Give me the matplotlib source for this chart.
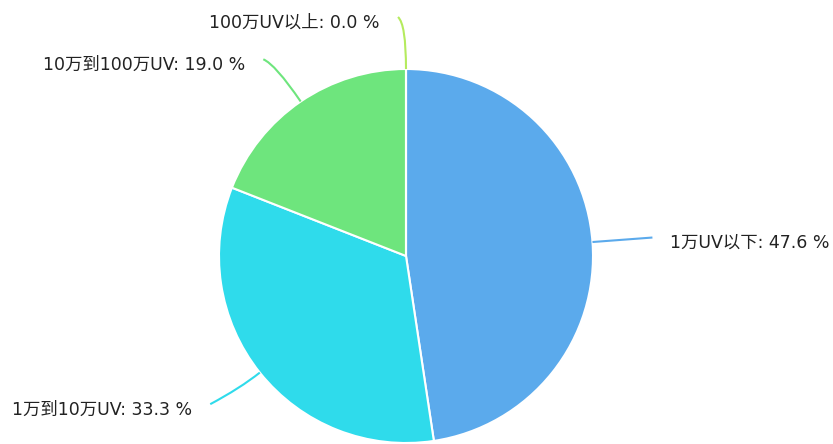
import numpy as np
import matplotlib
matplotlib.use("Agg")
import matplotlib.pyplot as plt
from matplotlib.path import Path
from matplotlib.patches import PathPatch

plt.rcParams['font.family'] = ['DejaVu Sans', 'Noto Sans CJK SC']

labels = ["1万UV以下", "1万到10万UV", "10万到100万UV", "100万UV以上"]
values = [10, 7, 4, 0]
colors = ["#5BAAEC", "#2FDBEB", "#6EE57D", "#B5EB5E"]

# leader line shape per label: radial length, horizontal length, vertical shift (px)
lead = [(20, 40, -3), (25, 30, 16), (45, 12, -5), (45, 8, -7)]

W, H = 833, 444
cx, cy, R = 406, H - 256, 187

fig = plt.figure(figsize=(W / 100, H / 100), dpi=100)
ax = fig.add_axes([0, 0, 1, 1])

wedges, _ = ax.pie(values, colors=colors, startangle=90, counterclock=False,
                   center=(cx, cy), radius=R, frame=True,
                   wedgeprops=dict(edgecolor="white", linewidth=1.5))
ax.set_xlim(0, W)
ax.set_ylim(0, H)
ax.set_aspect("equal")
ax.axis("off")

total = sum(values)
for w, lab, v, c, (l1, l2, dy) in zip(wedges, labels, values, colors, lead):
    mid = np.deg2rad((w.theta1 + w.theta2) / 2)
    p0 = (cx + R * np.cos(mid), cy + R * np.sin(mid))
    p1 = (cx + (R + l1) * np.cos(mid), cy + (R + l1) * np.sin(mid))
    side = 1 if np.cos(mid) > 0.01 else -1
    p2 = (p1[0] + side * l2, p1[1] - dy)
    path = Path([p0, p1, p2], [Path.MOVETO, Path.CURVE3, Path.CURVE3])
    ax.add_patch(PathPatch(path, fill=False, edgecolor=c, linewidth=1.5))
    ax.text(p2[0] + side * 18, p2[1] - 5.5, f"{lab}: {v / total * 100:.1f} %",
            ha="left" if side > 0 else "right", va="center",
            fontsize=12.5, color="#222222")

fig.savefig("out.png", dpi=100)
